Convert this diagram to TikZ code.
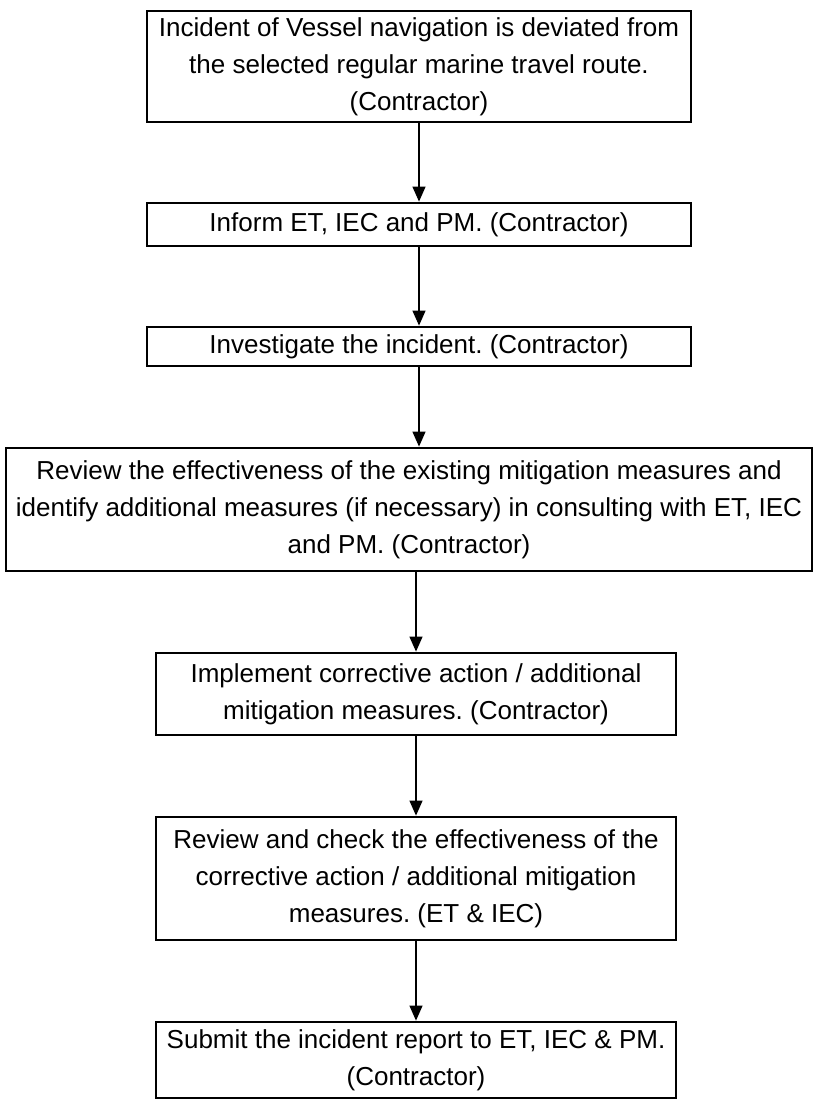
\documentclass[tikz,border=0pt]{standalone}
\usepackage{fontspec}
\setmainfont{Liberation Sans}
\usetikzlibrary{arrows.meta}
\frenchspacing
\tikzset{
  stepbox/.style={
    draw=black,
    line width=2.8pt,
    align=center,
    inner sep=0pt,
    font=\fontsize{26}{37}\selectfont
  },
  stepbox-wide/.style={stepbox, minimum width=544pt},
  stepbox-mid/.style={stepbox, minimum width=520pt},
  flow/.style={
    line width=1.2pt,
    -{Triangle[width=13pt,length=15pt]}
  }
}

\begin{document}
\begin{tikzpicture}[x=1pt,y=-1pt]
  \useasboundingbox (0,0) rectangle (814,1099);
  % Steps of the procedure
  \node[stepbox-wide, minimum height=111pt] (incident) at (419,66.5)
    {Incident of Vessel navigation is deviated from\\the selected regular marine travel route.\\(Contractor)};
  \node[stepbox-wide, minimum height=43pt] (inform) at (419,224.5)
    {Inform ET, IEC and PM. (Contractor)};
  \node[stepbox-wide, minimum height=39pt] (investigate) at (419,346.5)
    {Investigate the incident. (Contractor)};
  \node[stepbox, minimum width=806pt, minimum height=123pt] (review) at (409,509.5)
    {Review the effectiveness of the existing mitigation measures and\\identify additional measures (if necessary) in consulting with ET, IEC\\and PM. (Contractor)};
  \node[stepbox-mid, minimum height=82pt] (implement) at (416,694)
    {Implement corrective action / additional\\mitigation measures. (Contractor)};
  \node[stepbox-mid, minimum height=123pt] (check) at (416,878.5)
    {Review and check the effectiveness of the\\corrective action / additional mitigation\\measures. (ET \& IEC)};
  \node[stepbox-mid, minimum height=76pt] (submit) at (416,1060)
    {Submit the incident report to ET, IEC \& PM.\\(Contractor)};
  % Arrows
  \draw[flow] (incident) -- (inform);
  \draw[flow] (inform) -- (investigate);
  \draw[flow] (investigate.south) -- (investigate.south |- review.north);
  \draw[flow] (implement.north |- review.south) -- (implement.north);
  \draw[flow] (implement) -- (check);
  \draw[flow] (check) -- (submit);

\end{tikzpicture}
\end{document}
